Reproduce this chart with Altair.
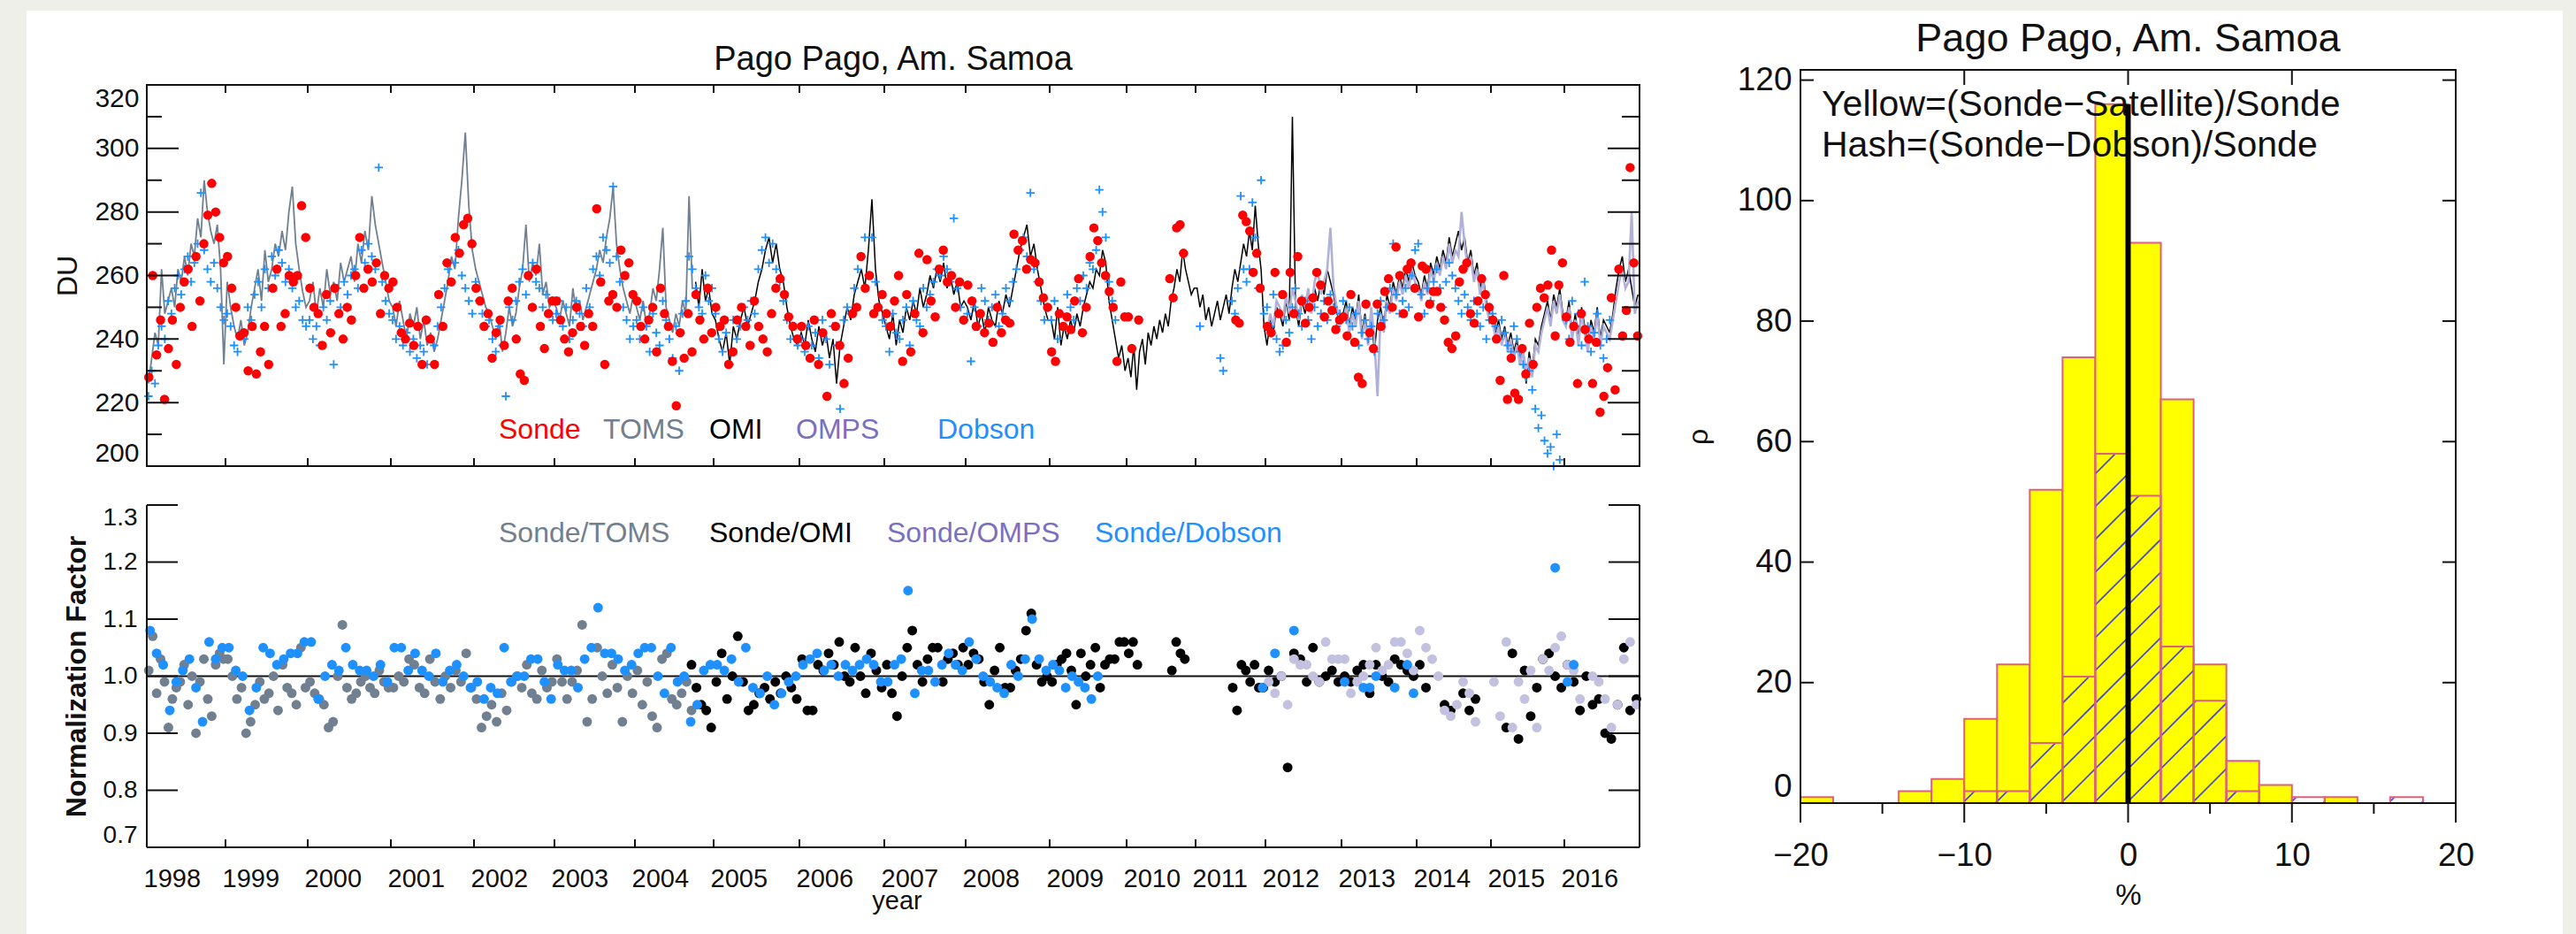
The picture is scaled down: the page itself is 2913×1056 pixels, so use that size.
import altair as alt
import pandas as pd

# ======================= DATA =======================
# Left panels: values per year, spread evenly through the year (None = no data)
TOMS_DU = {
    1998: [226, 234, 242, 238, 262, 248, 252, 256, 250, 262, 258, 266, 260, 270, 266, 278, 272, 290, 280, 274, 270, 276, 262, 232],
    1999: [258, 250, 244, 240, 246, 238, 242, 250, 256, 262, 252, 268, 258, 262, 270, 266, 274, 268, 280, 288, 270, 262, 255, 250],
    2000: [252, 258, 248, 256, 250, 262, 254, 258, 252, 264, 258, 262, 266, 258, 270, 264, 274, 268, 285, 276, 270, 264, 258, 252],
    2001: [250, 244, 252, 246, 240, 248, 244, 250, 240, 246, 238, 242, 236, 240, 246, 252, 258, 266, 262, 278, 290, 305, 282, 268],
    2002: [262, 258, 254, 250, 248, 244, 240, 246, 236, 242, 250, 244, 248, 256, 262, 276, 258, 264, 260, 270, 254, 258, 250, 252],
    2003: [250, 246, 252, 248, 244, 256, 248, 252, 246, 250, 254, 258, 262, 268, 264, 272, 278, 288, 270, 262, 256, 252, 248, 254],
    2004: [250, 246, 252, 244, 248, 256, 252, 262, 275, 250, 246, 242, 248, 244, 252, 248, 285, 256, None, None, None, None, None, None],
}
OMI_DU = {
    2004: [None] * 18 + [258, 250, 262, 252, 256, 248],
    2005: [246, 240, 236, 242, 232, 244, 240, 246, 250, 244, 248, 252, 258, 262, 268, 272, 264, 270, 262, 258, 250, 244, 240, 238],
    2006: [242, 238, 246, 240, 236, 244, 238, 242, 234, 240, 226, 238, 244, 250, 246, 254, 258, 262, 256, 268, 284, 262, 252, 248],
    2007: [244, 240, 248, 238, 246, 242, 250, 246, 252, 248, 256, 250, 254, 260, 256, 262, 258, 264, 256, 260, 254, 258, 250, 252],
    2008: [250, 246, 252, 244, 248, 242, 250, 246, 244, 252, 248, 254, 250, 256, 262, 268, 272, 276, 266, 270, 262, 256, 250, 246],
    2009: [246, 240, 250, 238, 244, 240, 246, 242, 248, 244, 250, 254, 258, 256, 262, 260, 268, 264, 252, 246, 240, 234, 238, 230],
    2010: [234, 228, 238, 224, 236, 240, 232, 242, 238, 244, 240, 246, 242, 248, 244, 252, 256, 262, 258, 268, 262, 258, 254, 256],
    2011: [256, 250, 254, 246, 250, 244, 248, 252, 246, 250, 254, 248, 256, 262, 258, 264, 270, 266, 274, 268, 282, 270, 262, 244],
    2012: [238, 246, 242, 250, 248, 244, 252, 246, 310, 250, 244, 252, 248, 254, 250, 256, 252, 258, 254, 262, 258, 254, 248, 246],
    2013: [248, 252, 244, 250, 246, 254, 242, 248, 240, 248, 236, 246, 250, 244, 254, 250, 258, 254, 260, 256, 262, 258, 264, 260],
    2014: [258, 254, 260, 256, 264, 260, 266, 262, 268, 264, 272, 266, 270, 274, 268, 272, 264, 268, 260, 264, 256, 260, 252, 248],
    2015: [248, 242, 246, 240, 244, 238, 242, 236, 240, 232, 238, 226, 236, 230, 240, 238, 244, 248, 252, 246, 254, 250, 256, 248],
    2016: [246, 252, 242, 248, 240, 250, 244, 238, 246, 242, 250, 240, 246, 244, 242, 248, 256, 262, 266, 258, 262, 256, 250, 254],
}
OMPS_DU = {
    2012: [242, 248, 244, 252, 250, 246, 254, 248, 256, 252, 246, 254, 250, 256, 248, 258, 262, 254, 258, 262, 275, 256, 250, 246],
    2013: [246, 250, 242, 248, 244, 252, 240, 246, 238, 250, 240, 222, 248, 242, 252, 248, 256, 252, 258, 254, 260, 256, 262, 258],
    2014: [256, 252, 258, 254, 262, 258, 264, 260, 266, 262, 270, 264, 268, 266, 280, 270, 262, 266, 258, 262, 254, 258, 250, 246],
    2015: [246, 240, 244, 238, 242, 236, 240, 234, 238, 232, 236, 230, 234, 228, 238, 236, 242, 246, 250, 244, 252, 248, 254, 246],
    2016: [244, 250, 240, 246, 238, 248, 242, 236, 244, 240, 248, 238, 244, 242, 240, 246, 252, 258, 262, 256, 258, 280, 248, 252],
}
DOBSON_DU = {
    1998: [222, 230, 226, 238, 244, 240, 252, 248, 256, 260, 254, 262, 266, 258, 264, 270, 286, 268, 262, 258, 264, 256, 250, 246],
    1999: [248, 244, 238, 236, 242, 240, 250, 246, 254, 258, 250, 262, 256, 266, 260, 268, 264, 258, 262, 256, 250, 252, 246, 244],
    2000: [246, 240, 244, 238, 250, 246, 252, 232, 256, 250, 258, 254, 260, 262, 256, 268, 264, 270, 266, 262, 294, 258, 252, 248],
    2001: [246, 240, 244, 238, 242, 236, 240, 234, 238, 236, 232, 240, 238, 244, 250, 256, 262, 258, 264, 268, 260, 256, 252, 248],
    2002: [258, 252, 248, 244, 246, 240, 236, 244, 238, 222, 250, 246, 252, 258, 262, 254, 260, 264, 258, 256, 250, 254, 248, 246],
    2003: [248, 252, 244, 250, 240, 246, 252, 248, 244, 256, 250, 262, 266, 260, 272, 268, 264, 288, 266, 258, 250, 246, 240, 244],
    2004: [246, 240, 250, 244, 236, 248, 242, 238, 252, 246, 240, 234, 244, 230, 248, 252, 266, 262, 256, 250, 248, 260, 252, 256],
    2005: [248, 240, 236, 242, 232, 246, 240, 244, 250, 246, 252, 248, 262, 268, 272, 264, 270, 262, 258, 252, 246, 240, 244, 238],
    2006: [240, 236, 244, 238, 242, 234, 246, 240, 232, 244, 238, 218, 246, 250, 248, 256, 262, 266, 272, 260, 272, 258, 250, 246],
    2007: [244, 236, 248, 242, 240, 246, 250, 238, 252, 246, 244, 256, 250, 254, 258, 262, 260, 266, 262, 258, 278, 256, 250, 246],
    2008: [248, 233, 250, 244, 256, 252, 246, 250, 254, 244, 248, 256, 252, 258, 262, 268, 272, 266, 286, 262, 258, 252, 246, 250],
    2009: [246, 252, 240, 248, 244, 254, 250, 246, 256, 252, 260, 256, 264, 262, 268, 287, 280, 272, 258, 252, 246, None, None, None],
    2011: [None, 244, None, None, None, None, None, None, 234, 230, None, None, 252, 248, 256, 285, 262, 258, 262, 283, 272, 256, 290, 248],
    2012: [250, 244, 254, 240, 236, 238, 246, 242, 250, 256, 248, 244, 252, 246, 240, 250, 244, 248, 252, 246, 254, 250, 244, 248],
    2013: [252, 246, 250, 244, 248, 238, 242, 246, 240, 244, 236, 248, 252, 246, 250, 256, 270, 254, 248, 252, 256, 250, 260, 268],
    2014: [270, 254, 248, 256, 252, 258, 262, 256, 250, 258, 264, 260, 256, 252, 248, 254, 250, 246, 252, 248, 244, 250, 240, 246],
    2015: [248, 244, 240, 246, 242, 238, 236, 244, 240, 236, 232, 228, 230, 224, 218, 212, 216, 208, 204, 206, 200, 210, 202, 198],
    2016: [246, 240, 252, 244, 248, 238, 258, 244, 236, 242, 248, 238, 234, 240, 246, None, None, None, None, None, None, None, None, None],
}
SONDE_DU = {
    1998: [228, 260, 235, 246, 221, 237, 246, 232, 250, 258, 262, 244, 266, 252, 270, 279, 289, 280, 272, 264],
    1999: [266, 256, 250, 241, 242, 230, 244, 229, 236, 244, 232, 256, 262, 244, 248, 260, 258, 260, 282, 272],
    2000: [256, 250, 248, 238, 254, 242, 256, 248, 240, 250, 246, 260, 272, 256, 262, 258, 264, 248, 260, 256],
    2001: [258, 250, 242, 240, 245, 238, 244, 232, 246, 240, 232, 254, 244, 264, 258, 272, 267, 276, 278, 270],
    2002: [256, 252, 244, 248, 234, 242, 246, 238, 252, 256, 240, 229, 227, 260, 250, 262, 244, 237, 248, 252],
    2003: [252, 246, 240, 236, 242, 250, 244, 238, 248, 244, 281, 258, 232, 252, 254, 250, 268, 260, 264, 254],
    2004: [252, 244, 240, 246, 250, 236, 256, 248, 244, 233, 219, 242, 234, 248, 236, 254, 246, 240, 256, 242],
    2005: [250, 244, 246, 232, 236, 246, 250, 244, 238, 252, 244, 240, 236, 248, 256, 259, 254, 247, 244, 240],
    2006: [244, 238, 234, 246, 232, 242, 222, 248, 244, 238, 226, 234, 248, 250, 266, 256, 260, 248, 250, 254],
    2007: [248, 244, 252, 260, 233, 254, 236, 248, 267, 242, 265, 252, 247, 262, 268, 258, 260, 250, 258, 246],
    2008: [257, 252, 244, 248, 242, 245, 239, 250, 242, 246, 245, 273, 268, 271, 262, 265, 264, 258, 253, 250],
    2009: [236, 233, 248, 244, 247, 243, 252, 259, 242, 250, 266, 275, 271, 264, 260, 255, 250, 233, 258, 247],
    2010: [247, 237, None, 246, None, None, None, None, None, None, None, None, 259, 253, 275, 276, 267, None, None, None],
    2011: [None] * 11 + [246, 245, 279, 277, 274, 261, 267, 256, None],
    2012: [244, 242, 261, 248, 254, 239, 261, 248, 266, 252, 245, 250, 253, 261, 257, 247, 252, 249, 243, 246],
    2013: [247, 241, 254, 239, 228, 226, 251, 242, 237, 251, 244, 255, 259, 250, 269, 260, 248, 262, 264, 256],
    2014: [247, 263, 262, 251, 255, 255, 250, 246, 239, 237, 241, 258, 262, 264, 248, 245, 252, 259, 254, 250],
    2015: [246, 240, 227, 260, 221, 234, 223, 221, 237, 229, 245, 232, 250, 256, 253, 257, 268, 241, 257, 264],
    2016: [247, 239, 244, 226, 248, 243, 240, 226, 239, 217, 222, 231, 253, 224, 262, 241, 249, 294, 264, 241],
}
# Normalization factors
R_TOMS = {
    1998: [1.01, 1.07, 0.97, 1.03, 0.99, 0.91, 0.96, 0.98, 0.99, 1.02, 0.95, 1.00, 0.90, 0.99, 1.03, 0.96, 0.93, 1.02, 1.04, 1.03],
    1999: [1.03, 1.00, 0.96, 0.98, 0.90, 0.92, 0.95, 0.99, 0.96, 0.97, 1.00, 0.94, 1.02, 0.98, 0.97, 0.95, 1.05, 0.98],
    2000: [0.99, 0.97, 0.96, 0.95, 0.91, 0.92, 1.00, 1.09, 0.98, 0.96, 0.97, 0.99, 1.00, 0.98, 0.97, 1.01, 0.99, 0.98],
    2001: [0.98, 1.00, 0.99, 1.03, 1.02, 0.98, 0.97, 1.03, 0.99, 0.96, 1.00, 0.98, 1.01, 0.99, 1.04, 0.98],
    2002: [0.96, 0.91, 0.93, 0.95, 0.92, 0.97, 0.94, 0.99, 1.00, 0.98, 1.02, 0.97, 0.96, 1.01, 0.98, 0.99],
    2003: [1.03, 0.99, 0.96, 0.99, 1.01, 1.09, 0.92, 0.96, 1.05, 1.00, 0.97, 1.02, 0.98, 0.92, 1.00, 0.97],
    2004: [1.01, 0.95, 0.99, 0.93, 0.91, 1.03, 1.04, 0.96, 0.95, 0.97, 0.99, 0.94, None, None, None, None],
}
R_OMI = {
    2004: [None] * 11 + [1.02, 0.98, 0.95, 0.94, 0.91],
    2005: [0.99, 1.04, 0.96, 1.00, 1.07, 0.99, 0.94, 0.95, 0.97, 0.98, 0.96, 0.99, 0.97, 1.00, 0.98, 0.96],
    2006: [1.03, 0.94, 0.94, 1.02, 1.01, 1.04, 1.02, 1.06, 1.00, 0.99, 1.05, 1.00, 0.97, 1.04, 1.01, 0.98],
    2007: [1.02, 0.97, 0.93, 1.00, 1.05, 1.08, 1.02, 0.99, 1.03, 1.05, 1.05, 0.99, 1.03, 1.04, 1.02, 1.05],
    2008: [1.02, 1.04, 1.03, 0.99, 0.95, 1.01, 1.05, 0.98, 0.98, 1.01, 1.03, 1.08, 1.11, 1.02, 0.99, 1.00],
    2009: [0.99, 1.02, 1.03, 1.04, 1.01, 0.95, 1.04, 1.00, 1.02, 1.05, 0.98, 1.02, 1.03, 1.03, 1.06, 1.06],
    2010: [1.04, 1.06, 1.02, None, None, None, None, None, None, None, 1.01, 1.06, 1.04, 1.03, None, None],
    2011: [None] * 8 + [0.98, 0.94, 1.02, 1.01, 0.99, 1.02, 0.98, 0.98],
    2012: [1.01, 0.99, 1.00, 0.84, 1.04, 1.03, 0.99, 1.05, 0.99, 1.00, 1.01, 0.99],
    2013: [1.00, 0.99, 1.01, 1.02, 0.97, 1.02, 1.00, 0.99, 1.03, 1.02, 1.01, 1.00],
    2014: [1.02, 0.98, None, None, 0.95, 0.94, None, 0.97, 0.94, 0.96, None, None],
    2015: [None, None, 0.91, 1.04, 0.89, 1.01, 0.93, 0.98, 1.03, 1.04, 1.00, 0.98],
    2016: [1.02, 0.99, 0.94, 1.00, 0.95, 0.96, 0.90, 0.89, 0.95, 1.05, 0.94, 0.96],
}
R_OMPS = {
    2012: [0.99, 0.97, 1.00, 0.95, 1.03, 1.02, 1.02, 1.00, 0.99, 1.06, 1.03, 1.03],
    2013: [1.03, 0.97, 0.99, 1.00, 1.02, 1.05, 1.01, 1.02, 1.06, 1.06, 1.04, 1.01],
    2014: [1.08, 1.05, 1.03, 1.00, 0.94, 0.93, 0.95, 0.99, 0.97, 0.92, None, None],
    2015: [0.99, 0.93, 1.06, 0.91, 0.99, 0.96, 1.01, 0.91, 1.03, 1.01, 1.05, 1.07],
    2016: [1.02, 1.01, 0.96, None, 1.00, 0.99, 0.96, 0.91, 0.95, 1.03, 1.06, 0.95],
}
R_DOBSON = {
    1998: [1.08, 1.04, 1.02, 0.94, 0.99, 1.01, 1.03, 0.98, 0.92, 1.06, 1.03, 1.05],
    1999: [1.05, 1.01, 1.00, 0.94, 0.98, 1.05, 1.04, 1.02, 1.03, 1.04, 1.04, 1.06],
    2000: [1.06, 0.96, 1.00, 1.02, 1.01, 1.05, 1.02, 1.01, 1.01, 1.00, 1.02, 0.99],
    2001: [1.05, 1.05, 1.01, 1.04, 1.01, 1.00, 1.04, 0.99, 1.01, 1.02, 1.00, 0.98],
    2002: [0.99, 0.96, 0.98, 0.97, 1.05, 0.99, 1.00, 1.00, 1.03, 1.03, 0.99, 0.96],
    2003: [1.02, 1.01, 1.01, 0.98, 1.03, 1.05, 1.12, 1.04, 1.04, 1.03, 1.01, 1.02],
    2004: [1.04, 1.05, 1.05, 1.00, 0.97, 1.05, 0.99, 1.00, 0.92, 0.95, 1.01, 1.02],
    2005: [1.02, 1.01, 1.03, 0.99, 1.05, 0.98, 0.97, 1.00, 0.95, 0.97, 0.99, 1.00],
    2006: [1.02, 1.03, 1.04, 1.01, 1.02, 1.00, 1.02, 1.01, 1.02, 1.03, 1.02, 0.99],
    2007: [0.99, 1.02, 1.03, 1.15, 0.97, 1.01, 1.01, 0.99, 1.02, 1.04, 1.02, 1.01],
    2008: [1.06, 1.03, 1.00, 0.99, 0.98, 0.97, 1.02, 1.00, 1.03, 1.10, 1.03, 1.01],
    2009: [1.02, 1.01, 0.98, 1.00, 0.99, 0.98, 0.96, 1.00, None, None, None, None],
    2011: [None] * 11 + [0.98],
    2012: [None, 1.04, None, None, 1.08, None, None, None, None, None, None, None],
    2013: [0.99, None, None, 0.98, 0.98, 1.00, None, None, 0.98, None, 1.02, 0.97],
    2015: [None] * 10 + [1.19, None],
    2016: [0.99, 1.02] + [None] * 10,
}
YEAR_TICKS = list(range(1998, 2018))
YEAR_LABELS = list(range(1998, 2017))
DU_MAJOR = [200, 220, 240, 260, 280, 300, 320]
DU_MINOR = [210, 230, 250, 270, 290, 310]
NF_TICKS = [0.7, 0.8, 0.9, 1.0, 1.1, 1.2, 1.3]
NF_REF = [1.0]

# Histogram (bins of 2 %)
HIST_BIN_LEFT = [-20, -18, -16, -14, -12, -10, -8, -6, -4, -2, 0, 2, 4, 6, 8, 10, 12, 14, 16]
BIN_W = 2
SAT_COUNTS = [1, 0, 0, 2, 4, 14, 23, 52, 74, 116, 93, 67, 23, 7, 3, 0, 1, 0, 0]
DOB_COUNTS = [0, 0, 0, 0, 0, 2, 2, 10, 21, 58, 51, 26, 17, 2, 0, 1, 0, 0, 1]
PCT_MAJOR = [-20, -10, 0, 10, 20]
PCT_MINOR = [-15, -5, 5, 15]
PCT_TOP = [-10, 0, 10]
CNT_TICKS = [0, 20, 40, 60, 80, 100, 120]

# ======================= STYLE / LAYOUT =======================
FONT = "Liberation Sans"
INK = "#111111"
PINK = "#e0607a"
C_SONDE, C_TOMS, C_OMI = "#ff0000", "#708090", "#000000"
C_OMPS_LINE, C_OMPS_DOT, C_OMPS_TXT = "#b0b0d8", "#c2c2e0", "#7b6fbf"
C_DOB = "#1e90ff"
PLUS = "M-1,0L1,0M0,-1L0,1"

VW, VH = 2611, 879
X_PIX = [0, 89, 182, 276, 370, 461, 552, 641, 738, 834, 926, 1021, 1108, 1186, 1265,
         1351, 1436, 1520, 1603, 1688]
LW = 1688
T0, T1 = 17, 448      # top panel
B0, B1 = 492, 879     # bottom panel
HX0, HX1 = 1870, 2611  # histogram
HY0, HY1 = 0, 829

xs = alt.Scale(domain=YEAR_TICKS, range=X_PIX, nice=False, zero=False)
ys_du = alt.Scale(domain=[200, 320], range=[T1, T0], nice=False, zero=False)
ys_nf = alt.Scale(domain=[0.7, 1.3], range=[B1, B0], nice=False, zero=False)
xs_p = alt.Scale(domain=[-20, 20], range=[HX0, HX1], nice=False, zero=False)
ys_c = alt.Scale(domain=[0, 121.7], range=[HY1, HY0], nice=False, zero=False)

ONE = pd.DataFrame({"k": [0]})


def tdf(series):
    rows = []
    for yr, vals in series.items():
        n = len(vals)
        for i, v in enumerate(vals):
            if v is not None:
                rows.append({"t": yr + (i + 0.5) / n, "v": v})
    return pd.DataFrame(rows)


def X(field, scale, axis=None):
    return alt.X(field, type="quantitative", scale=scale, axis=axis)


def Y(field, scale, axis=None):
    return alt.Y(field, type="quantitative", scale=scale, axis=axis)


def text(s, x, y, size, color=INK, align="left", weight="normal"):
    return alt.Chart(ONE).mark_text(text=s, align=align, baseline="alphabetic", font=FONT,
                                    fontSize=size, fontWeight=weight, color=color).encode(
        x=alt.value(x), y=alt.value(y))


def yticks(values, scale, x0, x1, axis=None):
    return alt.Chart(pd.DataFrame({"v": values})).mark_rule(color=INK, strokeWidth=2).encode(
        y=Y("v", scale, axis), x=alt.value(x0), x2=alt.value(x1))


def xticks(values, scale, y0, y1, axis=None):
    return alt.Chart(pd.DataFrame({"v": values})).mark_rule(color=INK, strokeWidth=2).encode(
        x=X("v", scale, axis), y=alt.value(y0), y2=alt.value(y1))


def box(x0, x1, y0, y1):
    return alt.Chart(ONE).mark_rect(fillOpacity=0, stroke=INK, strokeWidth=2).encode(
        x=alt.value(x0), x2=alt.value(x1), y=alt.value(y0), y2=alt.value(y1))


def seg(x0, x1, y0, y1):
    return alt.Chart(ONE).mark_rule(color=INK, strokeWidth=2).encode(
        x=alt.value(x0), x2=alt.value(x1), y=alt.value(y0), y2=alt.value(y1))


common = dict(ticks=False, tickSize=0, domain=False, grid=False, labelColor=INK,
              titleColor=INK, titleFontWeight="normal", labelOverlap=False, zindex=5)

du_axis = alt.Axis(orient="left", values=DU_MAJOR, labelPadding=9, labelFontSize=30,
                   labelFlush=True, title="DU", titleFontSize=32, titleAngle=270,
                   titleX=-80, titleY=(T0 + T1) / 2, titleAlign="center",
                   titleBaseline="alphabetic", **common)
nf_axis = alt.Axis(orient="left", values=NF_TICKS, format=".1f", labelPadding=11,
                   labelFontSize=28, labelFlush=True, title="Normalization Factor",
                   titleFontSize=32, titleAngle=270, titleX=-70, titleY=(B0 + B1) / 2,
                   titleAlign="center", titleBaseline="alphabetic",
                   **{**common, "titleFontWeight": "bold"})
year_axis = alt.Axis(orient="bottom", values=YEAR_LABELS, format="d", labelAlign="left",
                     labelBaseline="alphabetic", labelPadding=44, labelFontSize=29,
                     labelOffset=-4, labelFlush=False, title="year", titleFontSize=29,
                     titleX=848, titleY=69, titleAlign="center", titleBaseline="alphabetic",
                     **common)
pct_axis = alt.Axis(orient="bottom", offset=-(VH - HY1), values=PCT_MAJOR, labelPadding=70,
                    labelBaseline="alphabetic", labelFontSize=37, labelFlush=False,
                    title="%", titleFontSize=33, titleX=(HX0 + HX1) / 2, titleY=114,
                    titleAlign="center", titleBaseline="alphabetic", **common)
cnt_axis = alt.Axis(orient="left", offset=-HX0, values=CNT_TICKS, labelPadding=10,
                    labelFontSize=37, labelFlush=True, title="ρ", titleFontSize=32,
                    titleAngle=270, titleX=-106, titleY=(HY0 + HY1) / 2,
                    titleAlign="center", titleBaseline="alphabetic", **common)

layers = []

# page background panel
layers.append(alt.Chart(ONE).mark_rect(color="white").encode(
    x=alt.value(-136), x2=alt.value(2732), y=alt.value(-67), y2=alt.value(977)))

# ---------- histogram ----------
hist_df = pd.DataFrame({"lo": HIST_BIN_LEFT, "sat": SAT_COUNTS, "dob": DOB_COUNTS})
hist_df["hi"] = hist_df["lo"] + BIN_W
hist_df["base"] = 0

layers.append(alt.Chart(hist_df).mark_rect(fill="#ffff00", stroke=PINK, strokeWidth=2).encode(
    x=X("lo", xs_p), x2="hi", y=Y("sat", ys_c), y2="base"))

# hatching of the Dobson histogram (45-degree lines, clipped to each bar)
S = ((HX1 - HX0) / 40) / ((HY1 - HY0) / 121.7)
hrows = []
for lo, c in zip(HIST_BIN_LEFT, DOB_COUNTS):
    if c <= 0:
        continue
    hi = lo + BIN_W
    for k in range(40):
        a = -40.1 + 2 * k
        x1, x2 = max(lo, a), min(hi, a + c / S)
        if x2 > x1:
            hrows.append({"x1": x1, "y1": S * (x1 - a), "x2": x2, "y2": S * (x2 - a)})
layers.append(alt.Chart(pd.DataFrame(hrows)).mark_rule(color="#2b2bff", strokeWidth=1.8,
                                                      opacity=0.85).encode(
    x=X("x1", xs_p), y=Y("y1", ys_c), x2="x2", y2="y2"))
layers.append(alt.Chart(hist_df).mark_rect(fillOpacity=0, stroke=PINK, strokeWidth=2).encode(
    x=X("lo", xs_p), x2="hi", y=Y("dob", ys_c), y2="base"))

# ---------- top panel ----------
layers.append(alt.Chart(tdf(TOMS_DU)).mark_line(color=C_TOMS, strokeWidth=1.8).encode(
    x=X("t", xs), y=Y("v", ys_du)))
layers.append(alt.Chart(tdf(OMI_DU)).mark_line(color=C_OMI, strokeWidth=1.5).encode(
    x=X("t", xs), y=Y("v", ys_du)))
layers.append(alt.Chart(tdf(OMPS_DU)).mark_line(color=C_OMPS_LINE, strokeWidth=2.6).encode(
    x=X("t", xs), y=Y("v", ys_du)))
layers.append(alt.Chart(tdf(DOBSON_DU)).transform_filter("datum.v >= 200").mark_point(
    shape=PLUS, filled=False, size=90, strokeWidth=1.8, color=C_DOB, opacity=1).encode(
    x=X("t", xs), y=Y("v", ys_du)))
layers.append(alt.Chart(tdf(SONDE_DU)).mark_circle(size=110, color=C_SONDE, opacity=1).encode(
    x=X("t", xs), y=Y("v", ys_du)))

# ---------- bottom panel ----------
layers.append(alt.Chart(pd.DataFrame({"v": NF_REF})).mark_rule(color=INK, strokeWidth=2).encode(
    y=Y("v", ys_nf), x=alt.value(0), x2=alt.value(LW)))
for series, color in [(R_TOMS, C_TOMS), (R_OMI, C_OMI), (R_OMPS, C_OMPS_DOT), (R_DOBSON, C_DOB)]:
    layers.append(alt.Chart(tdf(series)).mark_circle(size=120, color=color, opacity=1).encode(
        x=X("t", xs), y=Y("v", ys_nf)))

# ---------- frames and ticks ----------
layers += [
    box(0, LW, T0, T1),
    yticks(DU_MAJOR, ys_du, 0, 36, du_axis),
    yticks(DU_MINOR, ys_du, 0, 17),
    yticks(DU_MAJOR, ys_du, LW - 36, LW),
    yticks(DU_MINOR, ys_du, LW - 20, LW),
    xticks(YEAR_TICKS, xs, T0, T0 + 9),
    xticks(YEAR_TICKS, xs, T1 - 9, T1),
    seg(0, 0, B0, B1), seg(LW, LW, B0, B1), seg(0, LW, B1, B1),
    yticks(NF_TICKS, ys_nf, 0, 35, nf_axis),
    yticks(NF_TICKS, ys_nf, LW - 35, LW),
    xticks(YEAR_TICKS, xs, B1 - 9, B1, year_axis),
    box(HX0, HX1, HY0, HY1),
    yticks(CNT_TICKS, ys_c, HX0, HX0 + 15, cnt_axis),
    yticks(CNT_TICKS, ys_c, HX1 - 15, HX1),
    xticks(PCT_TOP, xs_p, HY0, HY0 + 17),
    xticks(PCT_MAJOR, xs_p, HY1, HY1 + 22, pct_axis),
    xticks(PCT_MINOR, xs_p, HY1, HY1 + 12),
]

# ---------- texts ----------
layers += [
    text("Pago Pago, Am. Samoa", LW / 2, 0, 38, align="center"),
    text("Sonde", 398, 417, 32, C_SONDE),
    text("TOMS", 516, 417, 32, C_TOMS),
    text("OMI", 636, 417, 32, C_OMI),
    text("OMPS", 734, 417, 32, C_OMPS_TXT),
    text("Dobson", 894, 417, 32, C_DOB),
    text("Sonde/TOMS", 398, 534, 32, C_TOMS),
    text("Sonde/OMI", 636, 534, 32, C_OMI),
    text("Sonde/OMPS", 837, 534, 32, C_OMPS_TXT),
    text("Sonde/Dobson", 1072, 534, 32, C_DOB),
    text("Pago Pago, Am. Samoa", (HX0 + HX1) / 2, -21, 45, align="center"),
    text("Yellow=(Sonde\u2212Satellite)/Sonde", HX0 + 24, 52, 41),
    text("Hash=(Sonde\u2212Dobson)/Sonde", HX0 + 24, 98, 41),
]

# zero line of the histogram (up to the tallest bar)
layers.append(alt.Chart(pd.DataFrame({"x": [0], "y0": [0], "y1": [max(SAT_COUNTS)]})).mark_rule(
    color="black", strokeWidth=6).encode(x=X("x", xs_p), y=Y("y0", ys_c), y2="y1"))

chart = alt.layer(*layers).resolve_scale(
    x="independent", y="independent"
).resolve_axis(
    x="independent", y="independent"
).properties(
    width=VW, height=VH,
    padding={"left": 30, "top": 12, "right": 15, "bottom": 0},
    background="#efefe9",
    view=alt.ViewBackground(strokeWidth=0),
).configure(font=FONT)

chart.save("out.html", embed_options={"renderer": "svg", "actions": False})
